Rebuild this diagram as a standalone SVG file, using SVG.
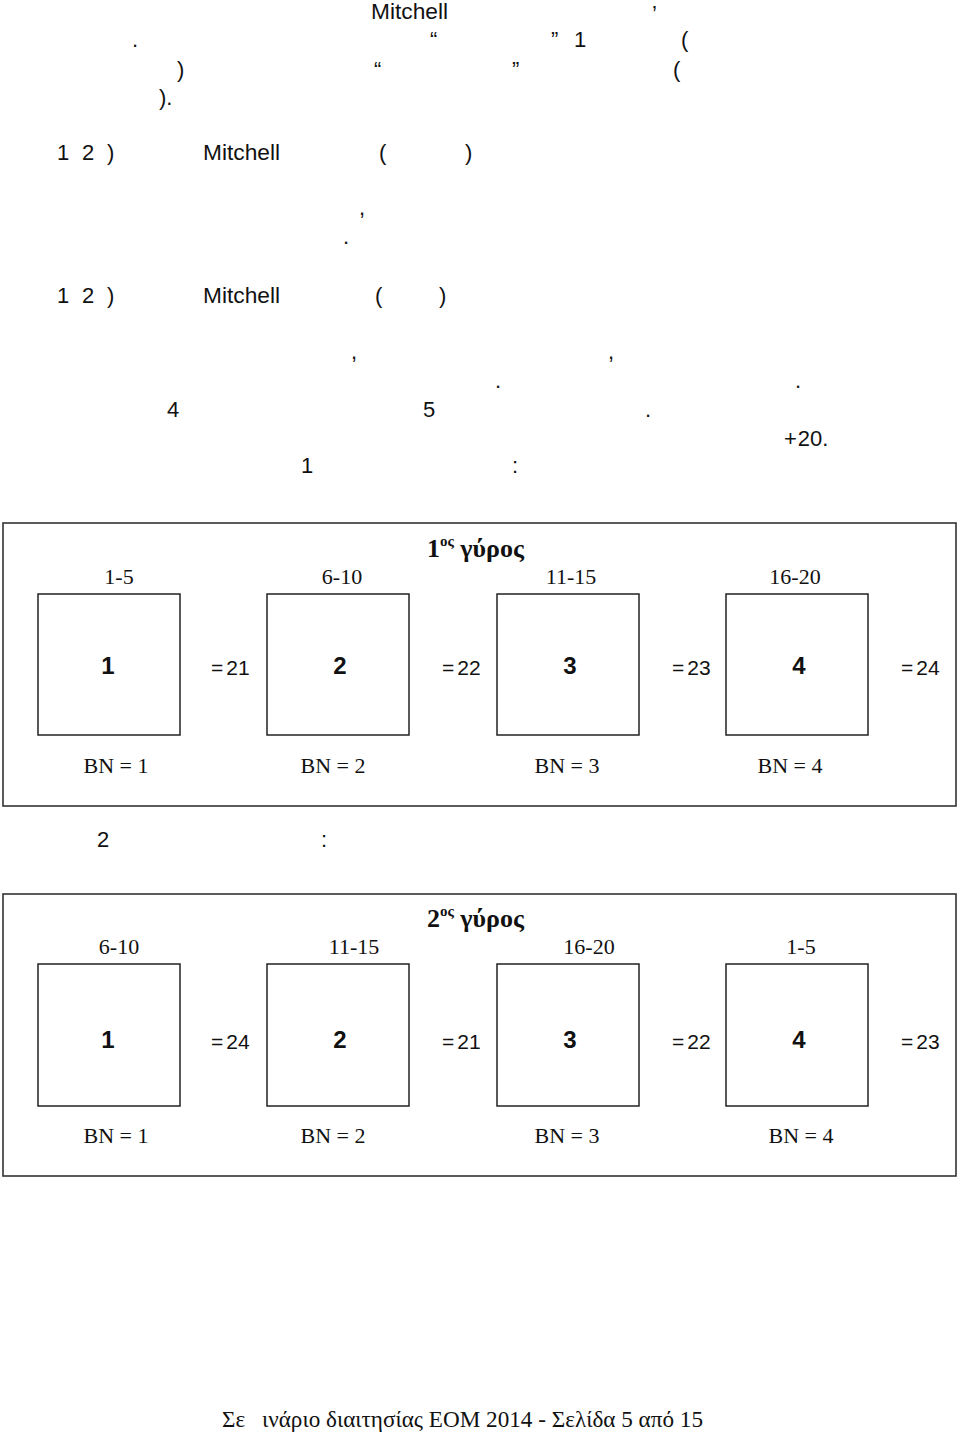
<svg xmlns="http://www.w3.org/2000/svg" width="960" height="1434" viewBox="0 0 960 1434">
<style>
.t{font-family:"Liberation Sans",Arial,sans-serif;font-size:22px;fill:#111}
.tm{font-family:"Liberation Serif","Times New Roman",serif;font-size:22px;fill:#111}
.ttl{font-family:"Liberation Serif","Times New Roman",serif;font-size:26px;font-weight:bold;fill:#111}
.sup{font-size:15px}
.num{font-family:"Liberation Sans",Arial,sans-serif;font-size:24px;font-weight:bold;fill:#111;text-anchor:middle}
.eq{font-family:"Liberation Sans",Arial,sans-serif;font-size:21px;fill:#111}
.ft{font-family:"Liberation Serif","Times New Roman",serif;font-size:23px;fill:#111}
.frame{fill:#fff;stroke:#333;stroke-width:1.6}
.box{fill:#fff;stroke:#222;stroke-width:1.5}
.mid{text-anchor:middle}
</style>
<rect x="0" y="0" width="960" height="1434" fill="#fff"/>
<g id="body-text" class="t">
<text x="371" y="19" textLength="77" lengthAdjust="spacingAndGlyphs">Mitchell</text>
<text x="652" y="21">’</text>
<text x="132" y="47">.</text>
<text x="430" y="47">“</text>
<text x="551" y="47">”</text>
<text x="574" y="47">1</text>
<text x="681" y="47">(</text>
<text x="177" y="77">)</text>
<text x="374" y="77">“</text>
<text x="512" y="77">”</text>
<text x="673" y="77">(</text>
<text x="159" y="105">).</text>
<text x="57" y="160">1</text><text x="82" y="160">2</text><text x="107" y="160">)</text>
<text x="203" y="160" textLength="77" lengthAdjust="spacingAndGlyphs">Mitchell</text>
<text x="379" y="160">(</text><text x="465" y="160">)</text>
<text x="359" y="215">,</text>
<text x="343" y="244">.</text>
<text x="57" y="303">1</text><text x="82" y="303">2</text><text x="107" y="303">)</text>
<text x="203" y="303" textLength="77" lengthAdjust="spacingAndGlyphs">Mitchell</text>
<text x="375" y="303">(</text><text x="439" y="303">)</text>
<text x="351" y="359">,</text><text x="608" y="359">,</text>
<text x="495" y="388">.</text><text x="795" y="388">.</text>
<text x="167" y="417">4</text><text x="423" y="417">5</text><text x="645" y="417">.</text>
<text x="784" y="446">+<tspan dx="1">20.</tspan></text>
<text x="301" y="473">1</text><text x="512" y="473">:</text>
<text x="97" y="847">2</text><text x="321" y="847">:</text>
</g>
<g id="round1">
<rect class="frame" x="3" y="523" width="953" height="283"/>
<text class="ttl" x="427" y="557">1<tspan class="sup" dy="-11">ος</tspan><tspan dy="11"> γύρος</tspan></text>
<g id="r1-box1"><text class="tm mid" x="119" y="584">1-5</text><rect class="box" x="38" y="594" width="142" height="141"/><text class="num" x="108" y="674">1</text><text class="tm mid" x="116" y="773">BN = 1</text></g>
<g id="r1-box2"><text class="tm mid" x="342" y="584">6-10</text><rect class="box" x="267" y="594" width="142" height="141"/><text class="num" x="340" y="674">2</text><text class="tm mid" x="333" y="773">BN = 2</text></g>
<g id="r1-box3"><text class="tm mid" x="571" y="584">11-15</text><rect class="box" x="497" y="594" width="142" height="141"/><text class="num" x="570" y="674">3</text><text class="tm mid" x="567" y="773">BN = 3</text></g>
<g id="r1-box4"><text class="tm mid" x="795" y="584">16-20</text><rect class="box" x="726" y="594" width="142" height="141"/><text class="num" x="799" y="674">4</text><text class="tm mid" x="790" y="773">BN = 4</text></g>
<text class="eq" x="211" y="675">=<tspan dx="3">21</tspan></text>
<text class="eq" x="442" y="675">=<tspan dx="3">22</tspan></text>
<text class="eq" x="672" y="675">=<tspan dx="3">23</tspan></text>
<text class="eq" x="901" y="675">=<tspan dx="3">24</tspan></text>
</g>
<g id="round2">
<rect class="frame" x="3" y="894" width="953" height="282"/>
<text class="ttl" x="427" y="927">2<tspan class="sup" dy="-11">ος</tspan><tspan dy="11"> γύρος</tspan></text>
<g id="r2-box1"><text class="tm mid" x="119" y="954">6-10</text><rect class="box" x="38" y="964" width="142" height="142"/><text class="num" x="108" y="1048">1</text><text class="tm mid" x="116" y="1143">BN = 1</text></g>
<g id="r2-box2"><text class="tm mid" x="354" y="954">11-15</text><rect class="box" x="267" y="964" width="142" height="142"/><text class="num" x="340" y="1048">2</text><text class="tm mid" x="333" y="1143">BN = 2</text></g>
<g id="r2-box3"><text class="tm mid" x="589" y="954">16-20</text><rect class="box" x="497" y="964" width="142" height="142"/><text class="num" x="570" y="1048">3</text><text class="tm mid" x="567" y="1143">BN = 3</text></g>
<g id="r2-box4"><text class="tm mid" x="801" y="954">1-5</text><rect class="box" x="726" y="964" width="142" height="142"/><text class="num" x="799" y="1048">4</text><text class="tm mid" x="801" y="1143">BN = 4</text></g>
<text class="eq" x="211" y="1049">=<tspan dx="3">24</tspan></text>
<text class="eq" x="442" y="1049">=<tspan dx="3">21</tspan></text>
<text class="eq" x="672" y="1049">=<tspan dx="3">22</tspan></text>
<text class="eq" x="901" y="1049">=<tspan dx="3">23</tspan></text>
</g>
<g id="footer" class="ft">
<text x="222" y="1427">Σε<tspan x="262" textLength="441" lengthAdjust="spacingAndGlyphs">ινάριο διαιτησίας ΕΟΜ 2014 - Σελίδα 5 από 15</tspan></text>
</g>
</svg>
